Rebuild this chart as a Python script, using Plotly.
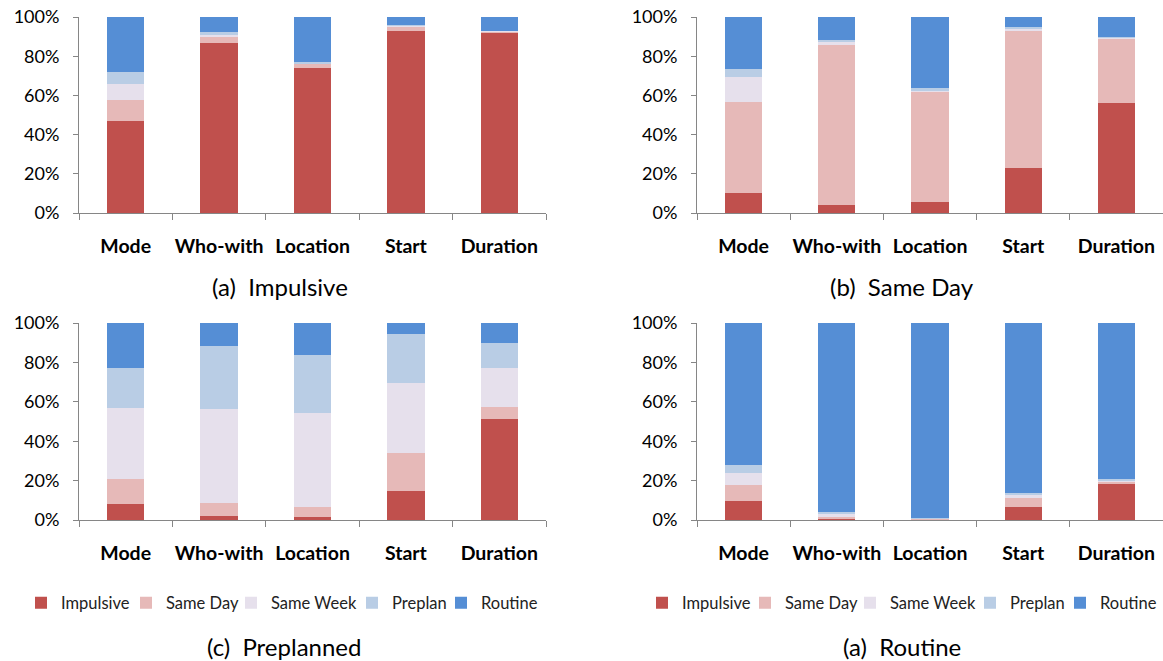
import plotly.graph_objects as go

W, H = 1163, 661

categories = ["Mode", "Who-with", "Location", "Start", "Duration"]
series_names = ["Impulsive", "Same Day", "Same Week", "Preplan", "Routine"]
series_colors = ["#C0504D", "#E6B9B8", "#E6E0EC", "#B9CDE5", "#558ED5"]
y_tick_values = [0, 20, 40, 60, 80, 100]
y_tick_labels = ["0%", "20%", "40%", "60%", "80%", "100%"]

# Percent shares per category, one list per planning class
impulsive_panel = {
    "Impulsive": [47.0, 86.6, 73.9, 92.7, 92.2],
    "Same Day":  [10.7, 3.6, 2.2, 2.6, 0.5],
    "Same Week": [8.3, 0.7, 0.4, 0.5, 0.2],
    "Preplan":   [5.9, 1.3, 0.3, 0.3, 0.2],
    "Routine":   [28.1, 7.8, 23.2, 3.9, 6.9],
}
same_day_panel = {
    "Impulsive": [10.3, 4.2, 5.4, 23.1, 56.0],
    "Same Day":  [46.4, 81.6, 56.2, 70.0, 32.9],
    "Same Week": [12.8, 1.4, 1.1, 0.8, 0.5],
    "Preplan":   [4.0, 1.3, 0.9, 0.9, 0.3],
    "Routine":   [26.5, 11.5, 36.4, 5.2, 10.3],
}
preplanned_panel = {
    "Impulsive": [8.1, 2.0, 1.4, 14.9, 51.1],
    "Same Day":  [12.7, 6.8, 5.4, 18.9, 6.1],
    "Same Week": [35.9, 47.4, 47.3, 35.7, 19.8],
    "Preplan":   [20.3, 32.3, 29.7, 24.9, 12.8],
    "Routine":   [23.0, 11.5, 16.2, 5.6, 10.2],
}
routine_panel = {
    "Impulsive": [9.5, 0.3, 0.5, 6.8, 18.3],
    "Same Day":  [8.1, 1.7, 0.2, 4.7, 1.3],
    "Same Week": [6.1, 1.0, 0.1, 1.0, 0.7],
    "Preplan":   [4.0, 1.2, 0.1, 1.2, 0.7],
    "Routine":   [72.3, 95.8, 99.1, 86.3, 79.0],
}

captions = ["(a)  Impulsive", "(b)  Same Day", "(c)  Preplanned", "(a)  Routine"]

FONT = "Lato, 'Open Sans', 'Liberation Sans', sans-serif"
AXIS_GREY = "#868686"


def px_x(v):
    return v / W


def px_y(v):
    return 1 - v / H


# panel boxes in pixels: (left, right, top, bottom)
boxes = [
    (79, 546, 17, 213),
    (697, 1164, 17, 213),
    (79, 546, 323, 520),
    (697, 1164, 323, 520),
]
caption_pos = [(280, 286), (902, 286), (284, 646), (902, 646)]
# left edge of each legend swatch, per panel that carries a legend
legend_swatch_x = {2: [39, 144, 249, 370, 459], 3: [660, 763, 868, 988, 1078]}
LEGEND_Y = 603

panels = [impulsive_panel, same_day_panel, preplanned_panel, routine_panel]

fig = go.Figure()
layout = dict(
    width=W, height=H,
    margin=dict(l=0, r=0, t=0, b=0, autoexpand=False),
    paper_bgcolor="white", plot_bgcolor="white",
    barmode="stack", bargap=0.6,
    font=dict(family=FONT, color="#000000"),
    annotations=[],
)

legend_count = 0
for i, (data, box) in enumerate(zip(panels, boxes)):
    n = i + 1
    xa = "x" if n == 1 else f"x{n}"
    ya = "y" if n == 1 else f"y{n}"
    for k, (name, color) in enumerate(zip(series_names, series_colors)):
        kw = dict(showlegend=False)
        if i in legend_swatch_x:
            legend_count += 1
            lid = "legend" if legend_count == 1 else f"legend{legend_count}"
            kw = dict(showlegend=True, legend=lid)
            layout[lid] = dict(
                x=px_x(legend_swatch_x[i][k] - 18), y=px_y(LEGEND_Y),
                xanchor="left", yanchor="middle", orientation="h",
                font=dict(size=16.5, family=FONT, color="#222222"),
                bgcolor="rgba(0,0,0,0)", itemwidth=30,
                itemclick=False, itemdoubleclick=False,
            )
        fig.add_trace(go.Bar(
            x=categories, y=data[name], name=name,
            marker=dict(color=color, line=dict(width=0)),
            xaxis=xa, yaxis=ya, hoverinfo="x+y+name", **kw,
        ))
    left, right, top, bottom = box
    layout[f"xaxis{'' if n == 1 else n}"] = dict(
        domain=[px_x(left), min(1.0, px_x(right))],
        anchor=ya, type="category", automargin=False,
        showline=True, linecolor=AXIS_GREY, linewidth=1,
        ticks="outside", tickson="boundaries", ticklen=6, tickcolor=AXIS_GREY,
        tickangle=0,
        tickfont=dict(size=19.5, family=FONT, color="#000000", weight="bold"),
        ticklabelstandoff=16,
        showgrid=False, zeroline=False, fixedrange=True,
    )
    layout[f"yaxis{'' if n == 1 else n}"] = dict(
        domain=[px_y(bottom), px_y(top)],
        anchor=xa, range=[0, 100], automargin=False,
        tickmode="array", tickvals=y_tick_values, ticktext=y_tick_labels,
        showline=True, linecolor=AXIS_GREY, linewidth=1,
        ticks="outside", ticklen=5, tickcolor=AXIS_GREY,
        ticklabelstandoff=10,
        tickfont=dict(size=18, family=FONT, color="#000000"),
        showgrid=False, zeroline=False, fixedrange=True,
    )
    cx, cy = caption_pos[i]
    layout["annotations"].append(dict(
        text=captions[i].replace(" ", "\u00a0"),
        x=px_x(cx), y=px_y(cy), xref="paper", yref="paper",
        xanchor="center", yanchor="middle", showarrow=False,
        font=dict(size=24, family=FONT, color="#000000"),
    ))

fig.update_layout(**layout)
fig.write_html("out.html")
